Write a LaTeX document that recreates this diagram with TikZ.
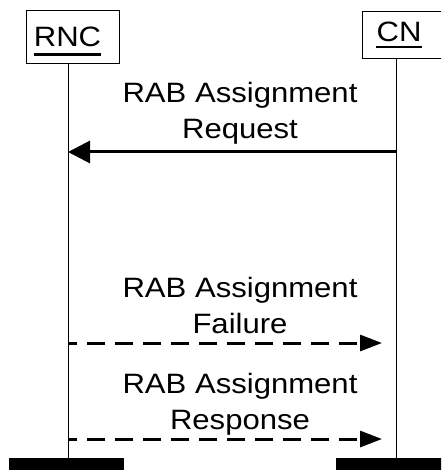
\documentclass[tikz,border=0pt]{standalone}
\usepackage{fontspec}
\setmainfont{Liberation Sans}[FakeStretch=1.11]
\usetikzlibrary{arrows.meta}
\tikzset{
  entity/.style={draw=black, line width=1pt, fill=white, inner sep=0pt},
  lbl/.style={inner sep=0pt, font=\fontsize{28}{36}\selectfont, align=center},
  life/.style={line width=1pt},
  bar/.style={fill=black, inner sep=0pt, minimum height=14pt},
  ul/.style={line width=2.7pt},
  req/.style={line width=3pt, -{Triangle[length=22pt,width=22pt]}},
  rsp/.style={line width=3pt, dash pattern=on 18pt off 10pt, dash phase=9pt, -{Triangle[length=22pt,width=16pt]}}
}
\begin{document}
\begin{tikzpicture}[x=1pt,y=-1pt]
\useasboundingbox (0,0) rectangle (441,470);
\clip (0,0) rectangle (441,470);
% entity boxes
\node[entity, minimum width=93pt, minimum height=53pt] (rncbox) at (72.5,37.5) {};
\node[entity, minimum width=84pt, minimum height=47pt] (cnbox) at (404,35.5) {};
\node[lbl, anchor=base] (rnc) at (67.5,47) {RNC};
\node[lbl, anchor=base] (cn) at (399,42) {CN};
\draw[ul] ([yshift=-7.5pt]rnc.base west) -- ([yshift=-7.5pt]rnc.base east);
\draw[ul] ([yshift=-5pt]cn.base west) -- ([yshift=-5pt]cn.base east);
% end bars
\node[bar, minimum width=115pt] (rncend) at (66.5,465) {};
\node[bar, minimum width=110pt] (cnend) at (391,465) {};
% lifelines
\coordinate (rncTop) at (68,64);
\coordinate (cnTop) at (396.5,59);
\draw[life] (rncTop) -- (rncTop |- rncend.north);
\draw[life] (cnTop) -- (cnTop |- cnend.north);
% messages
\coordinate (reqS) at (396.5,152);
\coordinate (reqE) at (68,152);
\coordinate (failS) at (68,343);
\coordinate (failE) at (382,343);
\coordinate (respS) at (68,439);
\coordinate (respE) at (382,439);
\draw[req] (reqS) -- (reqE);
\draw[rsp] (failS) -- (failE);
\draw[rsp] (respS) -- (respE);
\node[lbl, anchor=base] (reqlbl) at (240,139) {RAB Assignment\\Request};
\node[lbl, anchor=base] (faillbl) at (240,333) {RAB Assignment\\Failure};
\node[lbl, anchor=base] (resplbl) at (240,429) {RAB Assignment\\Response};
\end{tikzpicture}
\end{document}
